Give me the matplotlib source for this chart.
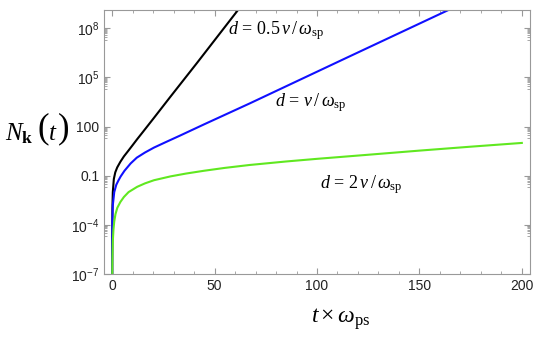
import numpy as np
import matplotlib
matplotlib.use("Agg")
import matplotlib.pyplot as plt
from matplotlib.ticker import FixedLocator, FixedFormatter

plt.rcParams['mathtext.fontset'] = 'custom'
plt.rcParams['mathtext.rm'] = 'Liberation Serif'
plt.rcParams['mathtext.it'] = 'Liberation Serif:italic'
plt.rcParams['mathtext.bf'] = 'Liberation Serif:bold'
plt.rcParams['mathtext.sf'] = 'Liberation Sans'
plt.rcParams['font.family'] = ['Liberation Sans', 'DejaVu Sans']

# curves: t * omega_ps and N_k(t)
t_half = [0.001, 0.01, 0.1, 0.3, 0.8, 1.5, 2.45, 4, 5.7, 8, 10, 12.2, 15, 20.4, 28.5, 41.5, 62]
n_half = [1e-7, 1e-5, 1e-3, 1e-2, 6.3e-2, 0.16, 0.32, 0.71, 1.5, 3.5, 7.4, 17, 47,
          340, 6.8e3, 7.9e5, 1.6e9]

t_one = [0.001, 0.01, 0.1, 0.3, 1, 2, 3, 4.1, 6, 9, 12, 16, 20.4, 26, 33.1, 44.8, 67.2, 112.8, 166]
n_one = [3.2e-8, 3.2e-6, 2.5e-4, 1.6e-3, 1e-2, 2.8e-2, 5e-2, 8.9e-2, 0.2, 0.56, 1.26, 2.6,
         5.2, 11, 28, 135, 2.6e3, 1.26e6, 1.66e9]

t_two = [0.02, 0.05, 0.1, 0.3, 0.6, 1, 1.6, 2.5, 4, 5.7, 8, 12.2, 16, 20.4, 28.5, 36, 44.8,
         55, 67, 85, 100, 125, 150, 175, 200]
n_two = [3.2e-8, 2e-7, 7.9e-7, 1e-5, 5e-5, 1.6e-4, 4.5e-4, 1.1e-3, 2.5e-3, 5e-3, 1e-2, 2.1e-2,
         3.4e-2, 5.3e-2, 9.1e-2, 0.135, 0.2, 0.3, 0.45, 0.74, 1.07, 1.9, 3.4, 5.9, 10]

y_ticks = [1e-7, 1e-4, 0.1, 100, 1e5, 1e8]
y_ticklabels = [r'$\mathsf{10^{-7}}$', r'$\mathsf{10^{-4}}$', '0.1', '100',
                r'$\mathsf{10^{5}}$', r'$\mathsf{10^{8}}$']
x_ticks = [0, 50, 100, 150, 200]

fig = plt.figure(figsize=(5.4, 3.48), dpi=100)
ax = fig.add_axes([0.1926, 0.2126, 0.7889, 0.7587])

ax.plot(t_half, n_half, color='black', lw=1.5)
ax.plot(t_one, n_one, color='#1010ff', lw=1.5)
ax.plot(t_two, n_two, color='#60e820', lw=1.5)

ax.set_yscale('log')
ax.set_xlim(-4, 204)
ax.set_ylim(1e-7, 1.3e9)

ax.yaxis.set_major_locator(FixedLocator(y_ticks))
ax.yaxis.set_major_formatter(FixedFormatter(y_ticklabels))
minor_y = [k * v / 10 for v in y_ticks[1:] for k in range(2, 10)]
ax.yaxis.set_minor_locator(FixedLocator(minor_y))
ax.yaxis.set_minor_formatter(FixedFormatter([''] * len(minor_y)))
ax.set_xticks(x_ticks)
ax.set_xticks(np.arange(0, 201, 10), minor=True)

for s in ax.spines.values():
    s.set_color('#999999')
ax.tick_params(which='both', direction='in', top=True, right=True, color='#999999',
               labelsize=10, labelcolor='#222222')
ax.tick_params(which='major', length=4)
ax.tick_params(which='minor', length=2)

ax.text(56.5, 7e7, r'$d\,=\,0.5\,v\,/\,\omega_{\mathrm{sp}}$', fontsize=13, va='center')
ax.text(79.4, 3e3, r'$d\,=\,v\,/\,\omega_{\mathrm{sp}}$', fontsize=13, va='center')
ax.text(101.4, 0.03, r'$d\,=\,2\,v\,/\,\omega_{\mathrm{sp}}$', fontsize=13, va='center')

# y label N_k ( t ) with tall brackets
ylab_y = 1 - 140 / 348
fig.text(5 / 540, ylab_y, r'$N_{\mathbf{k}}$', fontsize=18, ha='left', va='baseline')
fig.text(37 / 540, ylab_y + 0.004, r'$($', fontsize=25, ha='left', va='baseline')
fig.text(48 / 540, ylab_y, r'$t$', fontsize=18, ha='left', va='baseline')
fig.text(57 / 540, ylab_y + 0.004, r'$)$', fontsize=25, ha='left', va='baseline')

fig.text(0.576, 0.082, r'$t\times\omega_{\mathrm{ps}}$', fontsize=17, ha='left', va='center')

fig.savefig('out.png', dpi=100)
